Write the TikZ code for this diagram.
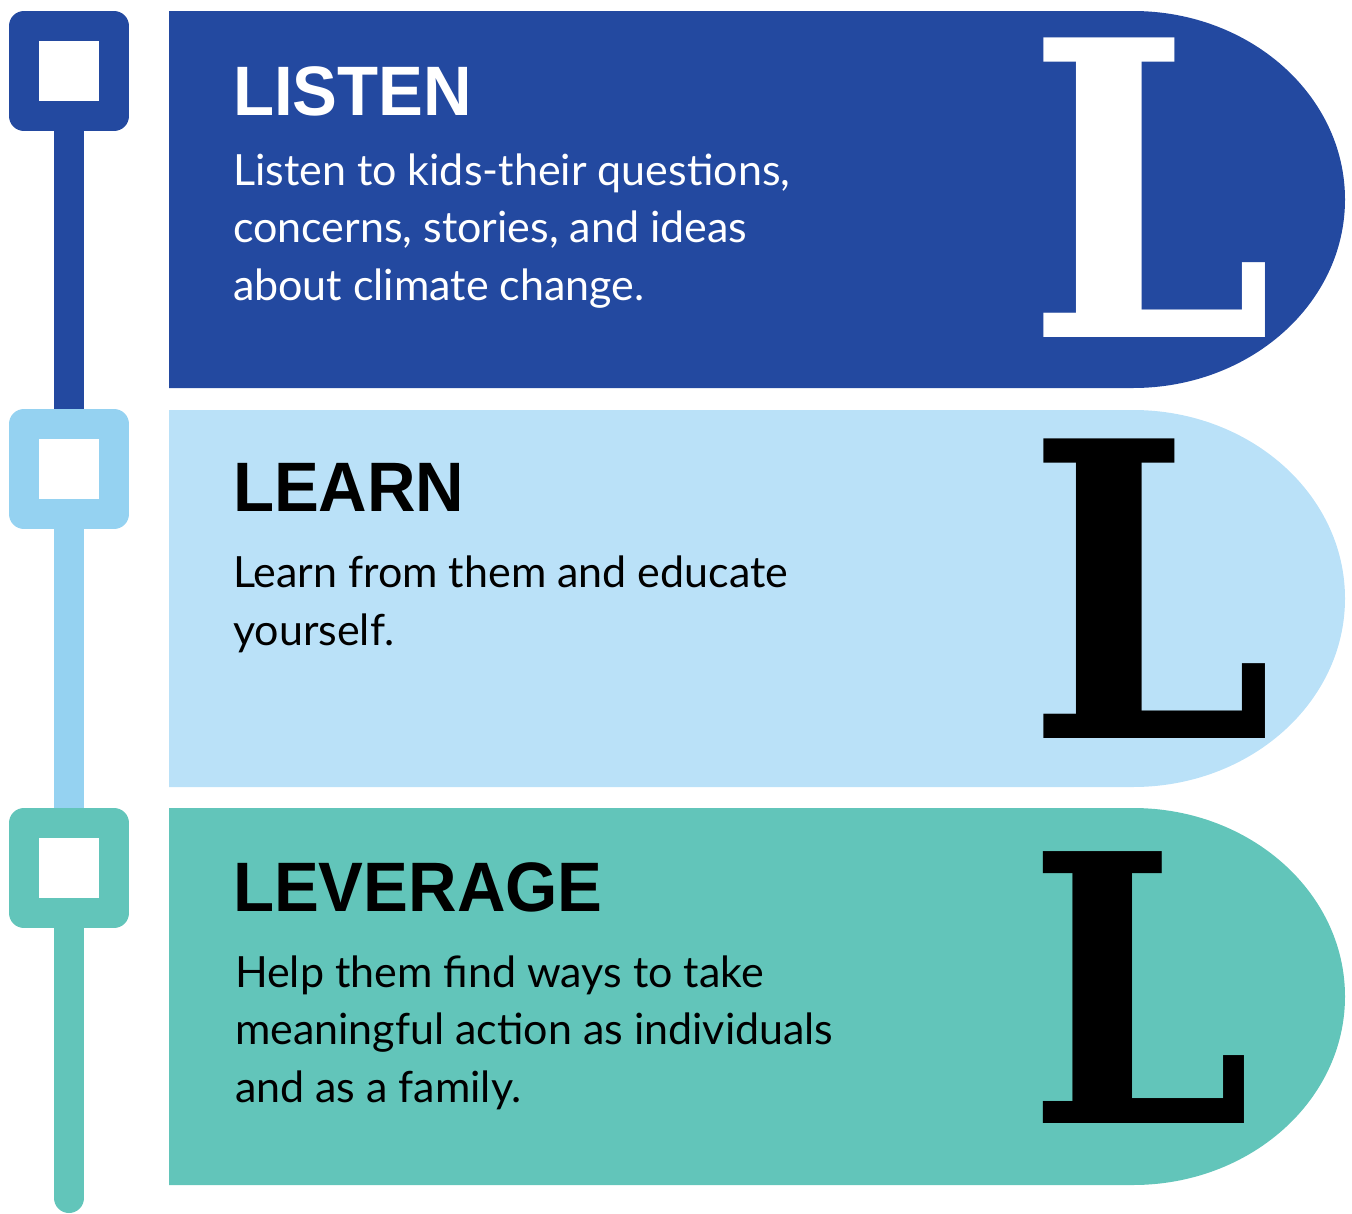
\documentclass[tikz,border=0pt]{standalone}
\usepackage{fontspec}
\newfontfamily\bodyfont{Lato}
\newfontfamily\headfont{Liberation Sans}
\newfontfamily\bigLfont{DejaVu Serif}
\definecolor{listenblue}{HTML}{2349A0}
\definecolor{learnblue}{HTML}{BAE1F8}
\definecolor{learnline}{HTML}{95D2F1}
\definecolor{leverteal}{HTML}{62C5BA}

\begin{document}
\begin{tikzpicture}[x=1pt,y=-1pt]
\tikzstyle{every node}=[inner sep=0,outer sep=0]
\tikzstyle{marker}=[draw,line width=30,line join=round,fill=white,minimum size=90,outer sep=15]
\tikzstyle{stem}=[line width=30]
\tikzstyle{headtext}=[font=\headfont\bfseries\fontsize{70}{70}\selectfont,xscale=0.96,anchor=base west]
\tikzstyle{bodytext}=[font=\bodyfont\fontsize{43}{57.5}\selectfont,align=left,anchor=base west]
\tikzstyle{bigL}=[font=\bigLfont\bfseries\fontsize{411}{411}\selectfont,xscale=0.85,anchor=base west]
\useasboundingbox (0,0) rectangle (1352,1213);

% bands
\fill[listenblue] (169,11) -- (1133,11) arc[start angle=-90,end angle=90,x radius=212,y radius=188.5] -- (169,388) -- cycle;
\fill[learnblue] (169,410) -- (1133,410) arc[start angle=-90,end angle=90,x radius=212,y radius=188.5] -- (169,787) -- cycle;
\fill[leverteal] (169,808) -- (1133,808) arc[start angle=-90,end angle=90,x radius=212,y radius=188.5] -- (169,1185) -- cycle;

% timeline
\node[marker,draw=listenblue] (m1) at (69,71) {};
\node[marker,draw=learnline] (m2) at (69,469) {};
\node[marker,draw=leverteal] (m3) at (69,868) {};
\coordinate (tail) at (69,1198);
\draw[stem,listenblue] (m1.south) -- (m2.north);
\draw[stem,learnline] (m2.south) -- (m3.north);
\draw[stem,leverteal,line cap=round] (m3.south) -- (tail);

% texts (base anchor sits on the last line)
\node[headtext,text=white] (t1) at (233,115) {LISTEN};
\node[bodytext,text=white] (b1) at (233,300) {Listen to kids-their questions,\\concerns, stories, and ideas\\about climate change.};
\node[bigL,text=white] (L1) at (1027,337) {L};

\node[headtext] (t2) at (233,511) {LEARN};
\node[bodytext] (b2) at (233,645) {Learn from them and educate\\yourself.};
\node[bigL] (L2) at (1027,738) {L};

\node[headtext] (t3) at (233,911) {LEVERAGE};
\node[bodytext] (b3) at (235,1102) {Help them find ways to take\\meaningful action as individuals\\and as a family.};
\node[bigL,font=\bigLfont\bfseries\fontsize{373}{373}\selectfont] (L3) at (1028,1123) {L};
\end{tikzpicture}
\end{document}
